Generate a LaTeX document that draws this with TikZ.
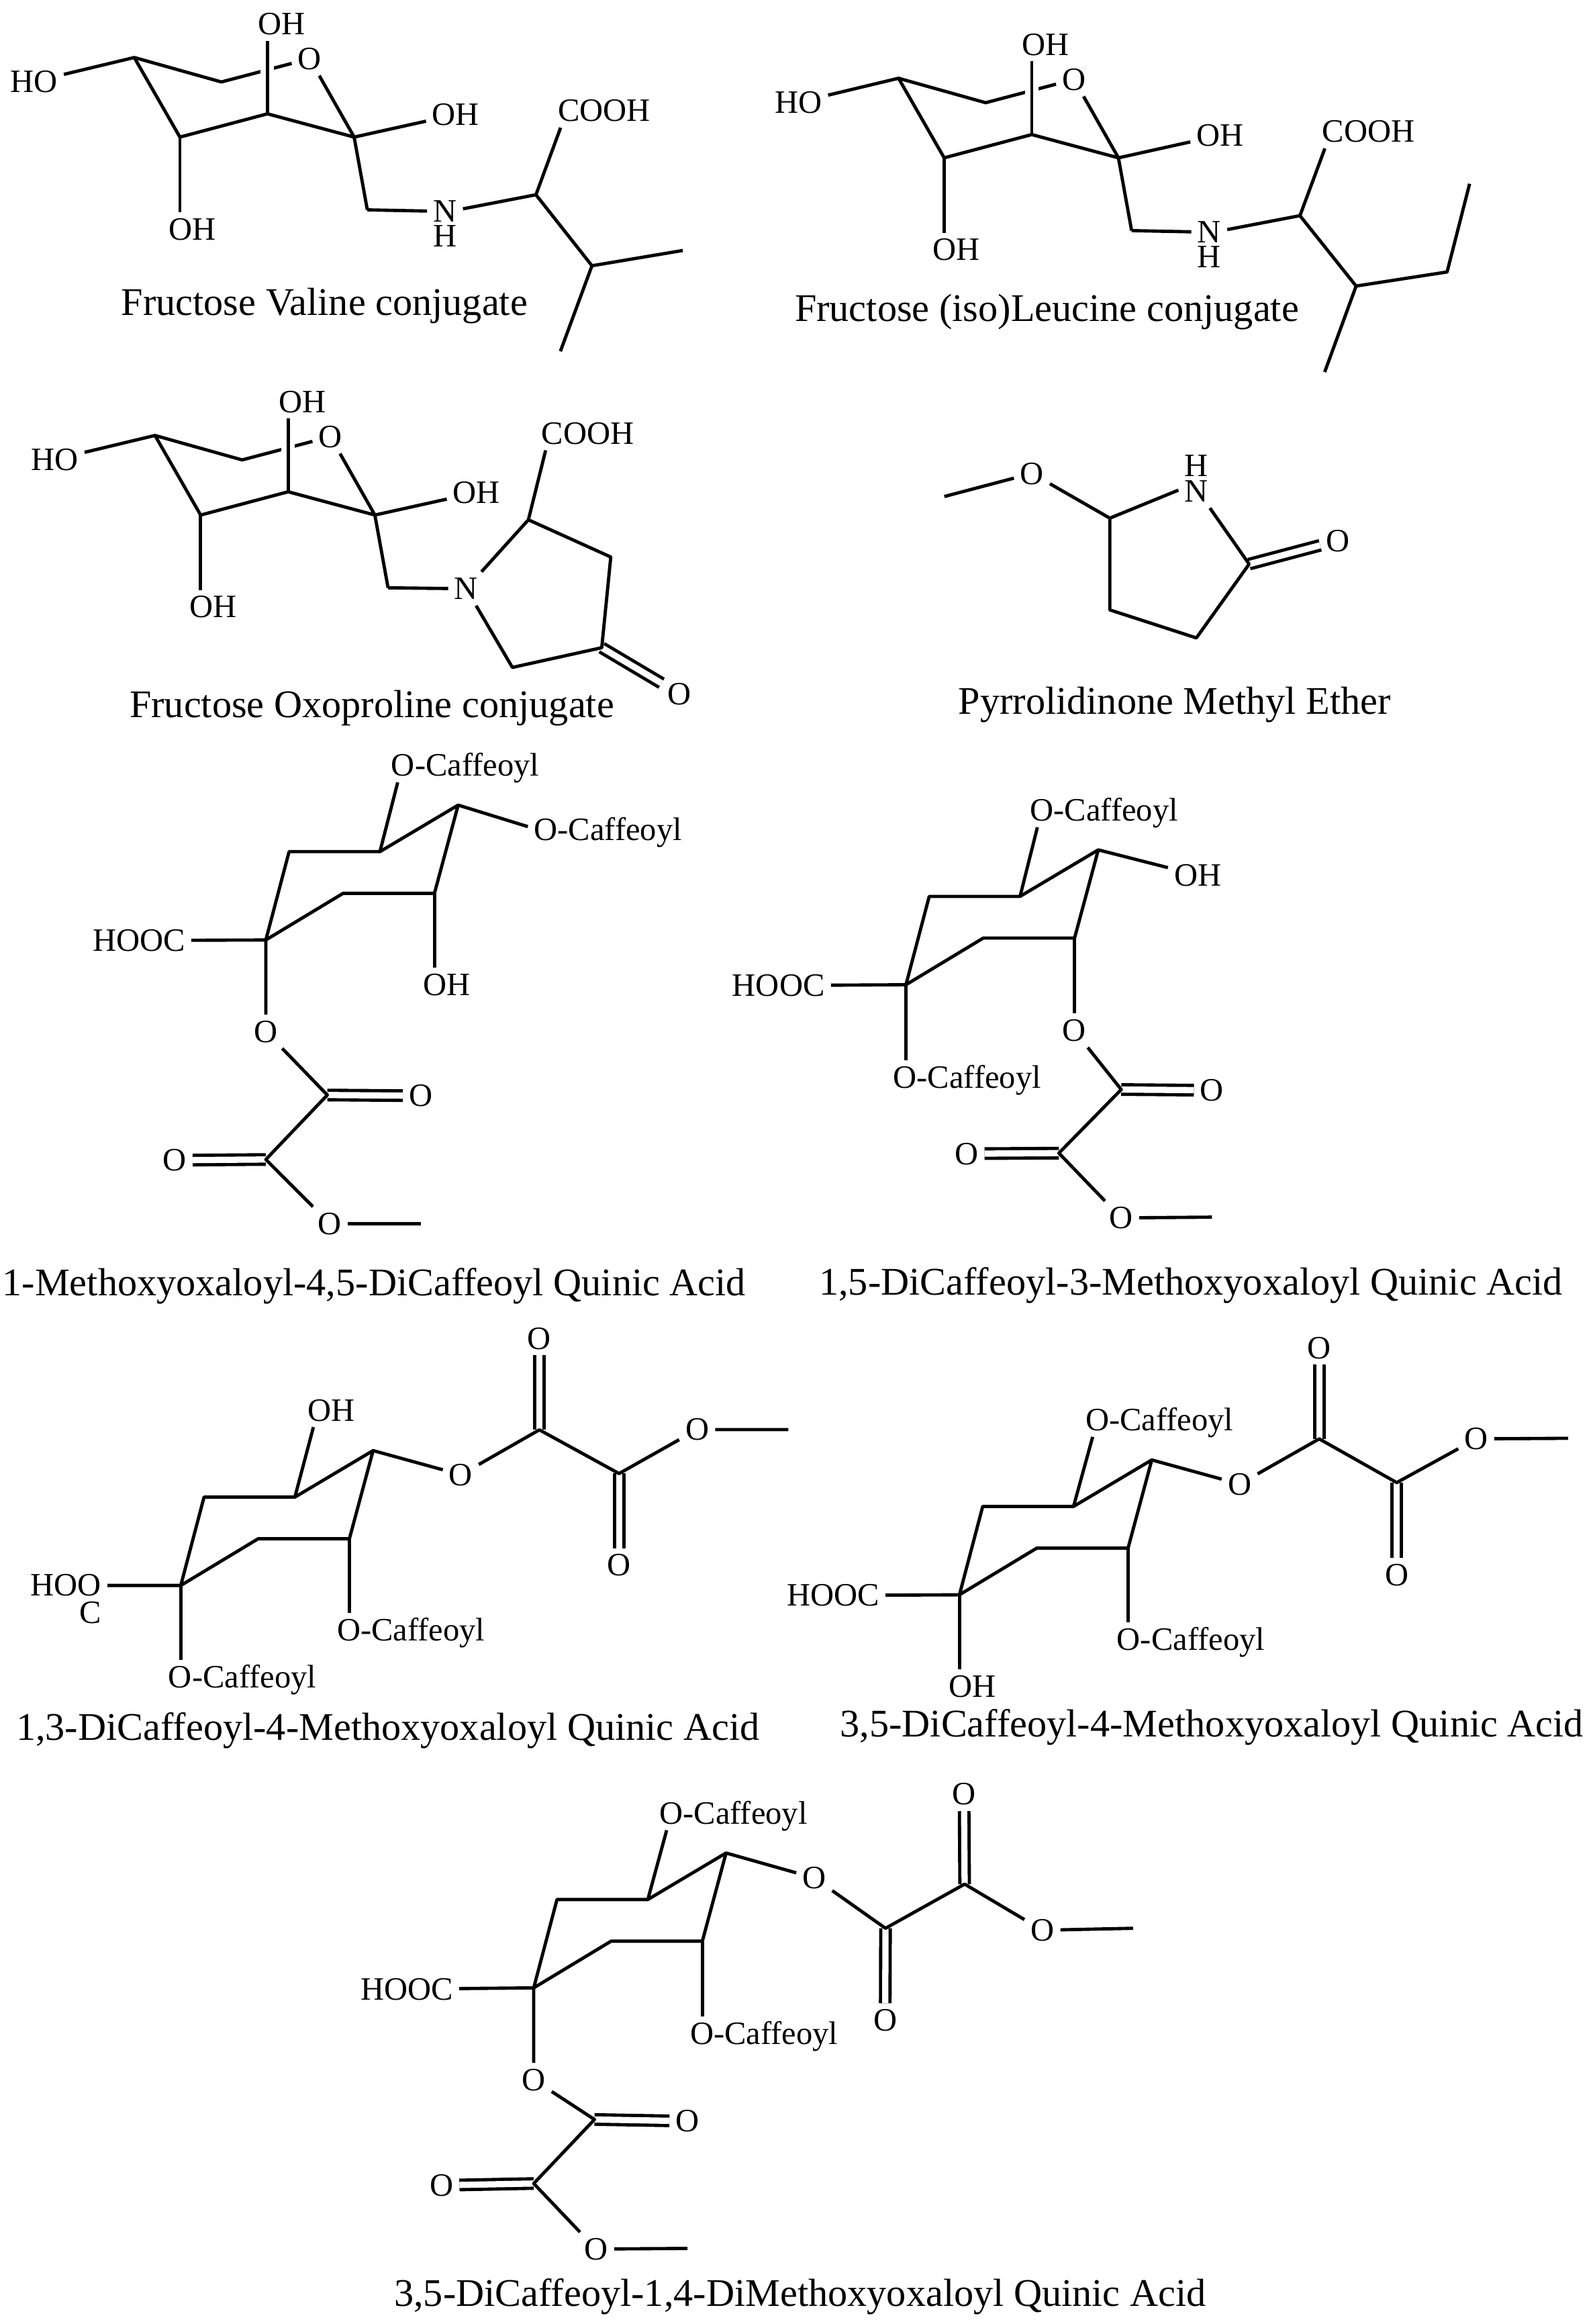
\documentclass[tikz,border=0pt]{standalone}
\usepackage{fontspec}
\setmainfont{Liberation Serif}
\tikzset{
  bond/.style={line width=2.2pt,line join=round,black},
  dbl/.style={line width=2.2pt,double,double distance=4.2pt,black},
  halo/.style={line width=9pt,white},
  atom/.style={inner sep=4pt,text height=14.5pt,text depth=0pt,font=\fontsize{22}{24}\selectfont},
  stackN/.style={inner sep=4pt,align=center,font=\fontsize{22}{17}\selectfont},
  stackC/.style={inner sep=4pt,align=right,font=\fontsize{22}{18.3}\selectfont},
  molcap/.style={inner sep=0pt,text height=16pt,text depth=0pt,font=\fontsize{26.4}{28}\selectfont},
}
\newcommand{\fruct}[2]{%
\begin{scope}[shift={#2}]
  \coordinate (#1A) at (90.6,38.8);
  \coordinate (#1B) at (149.4,55.3);
  \coordinate (#1D) at (121.4,92.5);
  \coordinate (#1E) at (180.5,76.8);
  \coordinate (#1F) at (239,92.5);
  \coordinate (#1G) at (247.9,141.6);
  \node[atom] (#1O) at (209,39.6) {O};
  \node[atom] (#1ho) at (23,55) {HO};
  \node[atom] (#1ot) at (190,16) {OH};
  \node[atom] (#1or) at (307.6,77.3) {OH};
  \node[atom] (#1ob) at (129.7,154.5) {OH};
  \draw[bond] (#1ho) -- (#1A) -- (#1B) -- (#1O);
  \draw[halo] (180.5,41) -- (180.5,54);
  \draw[bond] (#1E) -- (#1E |- #1ot.south);
  \draw[bond] (#1A) -- (#1D) -- (#1E) -- (#1F) -- (#1O);
  \draw[bond] (#1D) -- (#1D |- #1ob.north);
  \draw[bond] (#1F) -- (#1or);
  \draw[bond] (#1F) -- (#1G);
\end{scope}}
\newcommand{\quin}[2]{%
\begin{scope}[shift={#2}]
  \coordinate (#1a) at (0,0);
  \coordinate (#1b) at (15.7,-59.6);
  \coordinate (#1c) at (77,-59.6);
  \coordinate (#1d) at (129.8,-91);
  \coordinate (#1e) at (113.8,-31.5);
  \coordinate (#1f) at (52.2,-31.5);
  \draw[bond] (#1a) -- (#1b) -- (#1c) -- (#1d) -- (#1e) -- (#1f) -- cycle;
\end{scope}}
\begin{document}
\begin{tikzpicture}[x=1pt,y=-1pt]
\useasboundingbox (0,0) rectangle (1075,1568);
% --- Fructose Valine
\fruct{p}{(0,0)}
\node[stackN] (pN) at (300.3,150.9) {N\\H};
\coordinate (pC) at (361.7,131.4);
\coordinate (pI) at (399.5,179.3);
\coordinate (pJ) at (460.8,169);
\coordinate (pK) at (378.2,237);
\node[atom] (pco) at (407.7,74.7) {COOH};
\draw[bond] (pG) -- ([yshift=8.5pt]pN.west);
\draw[bond] ([yshift=10pt]pN.east) -- (pC) -- (pI) -- (pJ);
\draw[bond] (pC) -- ([xshift=6pt]pco.south west);
\draw[bond] (pI) -- (pK);
\node[molcap] (pcap) at (219,204.5) {Fructose Valine conjugate};
% --- Fructose (iso)Leucine
\fruct{q}{(515.8,14)}
\node[stackN] (qN) at (816.1,164.9) {N\\H};
\coordinate (qC) at (877.3,145.5);
\coordinate (qI) at (915.2,193);
\coordinate (qJ) at (976.6,183.5);
\coordinate (qL) at (991.8,124);
\coordinate (qK) at (894,251);
\node[atom] (qco) at (923.5,88.7) {COOH};
\draw[bond] (qG) -- ([yshift=8.5pt]qN.west);
\draw[bond] ([yshift=10pt]qN.east) -- (qC) -- (qI) -- (qJ) -- (qL);
\draw[bond] (qC) -- ([xshift=6pt]qco.south west);
\draw[bond] (qI) -- (qK);
\node[molcap] (qcap) at (706.5,209) {Fructose (iso)Leucine conjugate};
% --- Fructose Oxoproline
\fruct{r}{(14,255)}
\node[atom] (rN) at (314.6,397.2) {N};
\coordinate (r1) at (356.6,350.7);
\coordinate (r2) at (412.2,375.8);
\coordinate (r3) at (406.1,437);
\coordinate (r4) at (345.8,450.3);
\node[atom] (rco) at (396.6,292.4) {COOH};
\node[atom] (rO2) at (458.6,468.2) {O};
\draw[dbl] (r3) -- (rO2);
\draw[bond] (rG) -- (rN);
\draw[bond] (rN) -- (r1) -- (r2) -- (r3) -- (r4) -- (rN);
\draw[bond] (r1) -- ([xshift=7pt]rco.south west);
\node[molcap] (rcap) at (251,476) {Fructose Oxoproline conjugate};
% --- Pyrrolidinone Methyl Ether
\coordinate (s0) at (637.3,335);
\node[atom] (sO) at (696.4,319.4) {O};
\coordinate (s1) at (749,349.6);
\node[stackN] (sN) at (807.4,322.9) {H\\N};
\coordinate (s2) at (843,380.6);
\coordinate (s3) at (807.4,430.4);
\coordinate (s4) at (749,411.5);
\node[atom] (sO2) at (903.1,364.7) {O};
\draw[dbl] (s2) -- (sO2);
\draw[bond] (s0) -- (sO) -- (s1) -- ([yshift=-7.8pt]sN.west);
\draw[bond] ([xshift=-3pt]sN.south east) -- (s2) -- (s3) -- (s4) -- (s1);
\node[molcap] (scap) at (792.7,474) {Pyrrolidinone Methyl Ether};
% --- 1-Methoxyoxaloyl-4,5-DiCaffeoyl
\quin{t}{(179.4,634.2)}
\node[atom] (tc1) at (314,516.4) {O-Caffeoyl};
\node[atom] (tc2) at (410.3,559.7) {O-Caffeoyl};
\node[atom] (toh) at (301.6,664.3) {OH};
\node[atom] (tho) at (93.7,634.5) {HOOC};
\node[atom] (tO) at (179.4,695.9) {O};
\coordinate (tx) at (220.9,738.8);
\coordinate (ty) at (179.4,782.3);
\node[atom] (tO1) at (284,739.3) {O};
\node[atom] (tO2) at (117.9,782.8) {O};
\node[atom] (tO3) at (222.6,825.6) {O};
\coordinate (tm) at (284,825.6);
\draw[dbl] (tx) -- (tO1);
\draw[dbl] (ty) -- (tO2);
\draw[bond] (tc) -- ([xshift=8.5pt]tc1.south west);
\draw[bond] (td) -- ([yshift=2pt]tc2.west);
\draw[bond] (te) -- (te |- toh.north);
\draw[bond] (ta) -- (tho);
\draw[bond] (ta) -- (tO) -- (tx) -- (ty) -- (tO3) -- (tm);
\node[molcap] (tcap) at (252.5,866) {1-Methoxyoxaloyl-4,5-DiCaffeoyl Quinic Acid};
% --- 1,5-DiCaffeoyl-3-Methoxyoxaloyl
\quin{u}{(611.4,664.4)}
\node[atom] (uc1) at (745.2,546.7) {O-Caffeoyl};
\node[atom] (uoh) at (808.3,590.5) {OH};
\node[atom] (uc2) at (652.7,727) {O-Caffeoyl};
\node[atom] (uho) at (525.4,664.9) {HOOC};
\node[atom] (uO) at (725,695.3) {O};
\coordinate (ux) at (756.7,735.1);
\coordinate (uy) at (714.6,778);
\node[atom] (uO1) at (817.9,735.6) {O};
\node[atom] (uO2) at (652.3,778.4) {O};
\node[atom] (uO3) at (756.7,821.7) {O};
\coordinate (um) at (817.9,821.2);
\draw[dbl] (ux) -- (uO1);
\draw[dbl] (uy) -- (uO2);
\draw[bond] (uc) -- ([xshift=9pt]uc1.south west);
\draw[bond] (ud) -- (uoh);
\draw[bond] (ua) -- (ua |- uc2.north);
\draw[bond] (ua) -- (uho);
\draw[bond] (ue) -- (ue |- uO.north);
\draw[bond] (uO) -- (ux) -- (uy) -- (uO3) -- (um);
\node[molcap] (ucap) at (803.7,865.5) {1,5-DiCaffeoyl-3-Methoxyoxaloyl Quinic Acid};
% --- 1,3-DiCaffeoyl-4-Methoxyoxaloyl
\quin{v}{(122,1069.7)}
\node[atom] (voh) at (223.6,951.4) {OH};
\node[atom] (vO) at (311,995) {O};
\coordinate (vx) at (364,964.7);
\coordinate (vy) at (417.8,994.2);
\node[atom] (vO1) at (364,903) {O};
\node[atom] (vO2) at (417.8,1056) {O};
\node[atom] (vO3) at (470.5,964.5) {O};
\coordinate (vm) at (532,964.5);
\node[stackC] (vho) at (44.5,1078.85) {HOO\\C};
\node[atom] (vc1) at (163.6,1131.3) {O-Caffeoyl};
\node[atom] (vc2) at (277.4,1099.7) {O-Caffeoyl};
\draw[dbl] (vx) -- (vO1);
\draw[dbl] (vy) -- (vO2);
\draw[bond] (vc) -- ([xshift=8pt]voh.south west);
\draw[bond] (vd) -- (vO) -- (vx) -- (vy) -- (vO3) -- (vm);
\draw[bond] (va) -- ([yshift=9.15pt]vho.east);
\draw[bond] (va) -- (va |- vc1.north);
\draw[bond] (ve) -- (ve |- vc2.north);
\node[molcap] (vcap) at (261.8,1166) {1,3-DiCaffeoyl-4-Methoxyoxaloyl Quinic Acid};
% --- 3,5-DiCaffeoyl-4-Methoxyoxaloyl
\quin{w}{(647.5,1076)}
\node[atom] (wc1) at (782.5,958) {O-Caffeoyl};
\node[atom] (wO) at (836.6,1001.3) {O};
\coordinate (wx) at (890.3,970.8);
\coordinate (wy) at (942.6,1000.3);
\node[atom] (wO1) at (890.3,909.3) {O};
\node[atom] (wO2) at (942.6,1062.6) {O};
\node[atom] (wO3) at (996.3,970.8) {O};
\coordinate (wm) at (1058.2,970.4);
\node[atom] (who) at (562.3,1076.4) {HOOC};
\node[atom] (woh) at (656.4,1137.9) {OH};
\node[atom] (wc2) at (803.7,1106) {O-Caffeoyl};
\draw[dbl] (wx) -- (wO1);
\draw[dbl] (wy) -- (wO2);
\draw[bond] (wc) -- ([xshift=9pt]wc1.south west);
\draw[bond] (wd) -- (wO) -- (wx) -- (wy) -- (wO3) -- (wm);
\draw[bond] (wa) -- (who);
\draw[bond] (wa) -- (wa |- woh.north);
\draw[bond] (we) -- (we |- wc2.north);
\node[molcap] (wcap) at (817.9,1164) {3,5-DiCaffeoyl-4-Methoxyoxaloyl Quinic Acid};
% --- 3,5-DiCaffeoyl-1,4-DiMethoxyoxaloyl
\quin{z}{(360.2,1341.2)}
\node[atom] (zc1) at (495,1223.4) {O-Caffeoyl};
\node[atom] (zO) at (549.5,1267) {O};
\coordinate (zx) at (597.6,1301);
\coordinate (zy) at (651,1271.2);
\node[atom] (zO1) at (597.4,1363) {O};
\node[atom] (zO2) at (650.6,1210.5) {O};
\node[atom] (zO3) at (703.5,1302.3) {O};
\coordinate (zm) at (764.7,1301);
\node[atom] (zho) at (274.6,1342) {HOOC};
\node[atom] (zc2) at (515.7,1372) {O-Caffeoyl};
\node[atom] (zP) at (360.2,1403.2) {O};
\coordinate (zr) at (401.2,1430);
\coordinate (zs) at (360.2,1473.2);
\node[atom] (zP1) at (463.9,1431.1) {O};
\node[atom] (zP2) at (297.9,1474.4) {O};
\node[atom] (zP3) at (402.3,1517.4) {O};
\coordinate (zn) at (464,1517);
\draw[dbl] (zx) -- (zO1);
\draw[dbl] (zy) -- (zO2);
\draw[dbl] (zr) -- (zP1);
\draw[dbl] (zs) -- (zP2);
\draw[bond] (zc) -- ([xshift=9pt]zc1.south west);
\draw[bond] (zd) -- (zO) -- (zx) -- (zy) -- (zO3) -- (zm);
\draw[bond] (za) -- (zho);
\draw[bond] (ze) -- (ze |- zc2.north);
\draw[bond] (za) -- (zP) -- (zr) -- (zs) -- (zP3) -- (zn);
\node[molcap] (zcap) at (540,1548) {3,5-DiCaffeoyl-1,4-DiMethoxyoxaloyl Quinic Acid};
\end{tikzpicture}
\end{document}
